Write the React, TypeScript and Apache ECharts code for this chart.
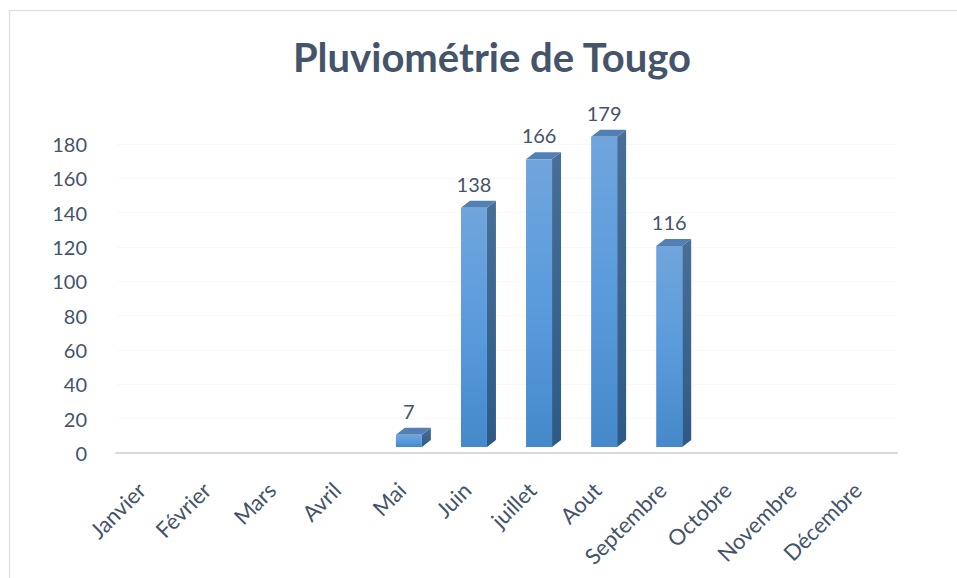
import React, { useEffect, useRef } from "react";
import * as echarts from "echarts";

const months = ["Janvier", "Février", "Mars", "Avril", "Mai", "Juin", "juillet", "Aout", "Septembre", "Octobre", "Novembre", "Décembre"];
const rainfall = [0, 0, 0, 0, 7, 138, 166, 179, 116, 0, 0, 0];
const yTicks = { min: 0, max: 180, interval: 20 };
const titleText = "Pluviométrie de Tougo";

const TEXT = "#44546a";
const FONT = "Lato, 'Open Sans', sans-serif";

export default function App() {
  const ref = useRef<HTMLDivElement>(null);
  useEffect(() => {
    document.body.style.margin = "0";
    const chart = echarts.init(ref.current!, undefined, { renderer: "svg" });
    const data = months.map((m, i) => [i, rainfall[i]]);
    chart.setOption({
      animation: false,
      backgroundColor: "#ffffff",
      title: {
        text: titleText,
        left: 487,
        top: 32,
        textAlign: "center",
        textStyle: { color: TEXT, fontSize: 40, fontWeight: "bold", fontFamily: FONT },
      },
      graphic: [
        {
          type: "rect",
          silent: true,
          shape: { x: 9.5, y: 10.5, width: 1000, height: 700 },
          style: { fill: "none", stroke: "#dde2e8", lineWidth: 1.5 },
          z: -1,
        },
      ],
      grid: { left: 116, right: 60, top: 144, bottom: 125 },
      xAxis: {
        type: "category",
        data: months,
        axisLine: { lineStyle: { color: "#d9d9d9", width: 2 } },
        axisTick: { show: false },
        axisLabel: { rotate: 45, margin: 26, padding: [0, 10, 0, 0], fontSize: 22, color: TEXT, fontFamily: FONT, interval: 0 },
        splitLine: { show: false },
      },
      yAxis: {
        type: "value",
        min: yTicks.min,
        max: yTicks.max,
        interval: yTicks.interval,
        axisLine: { show: false },
        axisTick: { show: false },
        axisLabel: { margin: 29, fontSize: 20, color: TEXT, fontFamily: FONT },
        splitLine: { lineStyle: { color: "#f9f9f9", width: 1 } },
      },
      series: [
        {
          type: "custom",
          data,
          encode: { x: 0, y: 1 },
          renderItem: (params: any, api: any) => {
            const v = api.value(1);
            if (!v) return { type: "group", children: [] };
            const c = api.coord([api.value(0), v]);
            const z = api.coord([api.value(0), 0]);
            const w = 26, dx = 9, dy = 7;
            const base = z[1] - 6;
            const h = (z[1] - c[1]) * 1.01;
            const x0 = c[0] - w / 2;
            const x1 = c[0] + w / 2;
            const top = base - h;
            return {
              type: "group",
              children: [
                {
                  type: "polygon",
                  shape: { points: [[x1, top], [x1 + dx, top - dy], [x1 + dx, base - dy], [x1, base]] },
                  style: {
                    fill: new echarts.graphic.LinearGradient(0, 0, 0, 1, [
                      { offset: 0, color: "#476f98" },
                      { offset: 1, color: "#2d5a85" },
                    ]),
                  },
                },
                {
                  type: "polygon",
                  shape: { points: [[x0, top], [x0 + dx, top - dy], [x1 + dx, top - dy], [x1, top]] },
                  style: { fill: "#5280b3" },
                },
                {
                  type: "rect",
                  shape: { x: x0, y: top, width: w, height: h },
                  style: {
                    fill: new echarts.graphic.LinearGradient(0, 0, 0, 1, [
                      { offset: 0, color: "#70a5dd" },
                      { offset: 0.5, color: "#5a9bdc" },
                      { offset: 1, color: "#4589cb" },
                    ]),
                  },
                },
                {
                  type: "text",
                  style: {
                    text: String(v),
                    x: c[0],
                    y: top - dy - 17,
                    align: "center",
                    verticalAlign: "middle",
                    fontSize: 20,
                    fill: TEXT,
                    fontFamily: FONT,
                  },
                },
              ],
            };
          },
        },
      ],
    });
    return () => chart.dispose();
  }, []);
  return <div ref={ref} style={{ position: "absolute", left: 0, top: 0, width: 957, height: 578 }} />;
}
